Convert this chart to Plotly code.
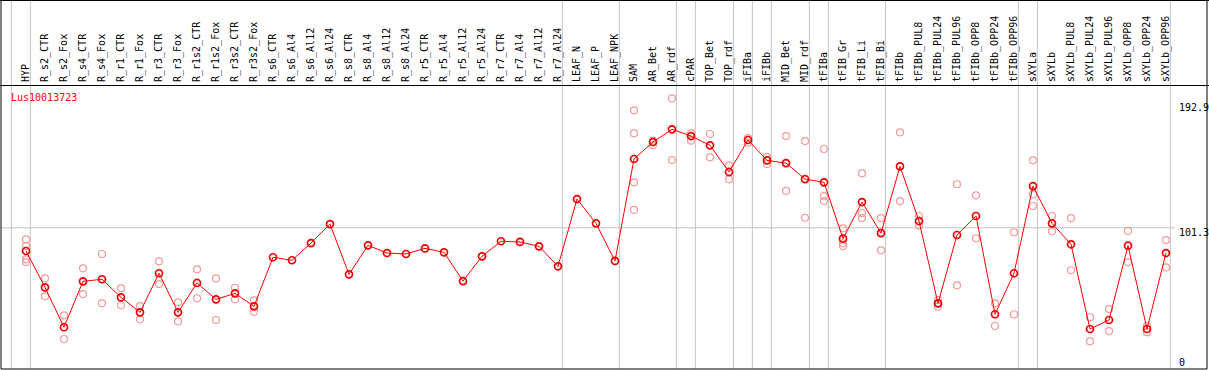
import plotly.graph_objects as go

categories = [
    "HYP", "R_s2_CTR", "R_s2_Fox", "R_s4_CTR", "R_s4_Fox", "R_r1_CTR", "R_r1_Fox",
    "R_r3_CTR", "R_r3_Fox", "R_r1s2_CTR", "R_r1s2_Fox", "R_r3s2_CTR", "R_r3s2_Fox",
    "R_s6_CTR", "R_s6_Al4", "R_s6_Al12", "R_s6_Al24", "R_s8_CTR", "R_s8_Al4",
    "R_s8_Al12", "R_s8_Al24", "R_r5_CTR", "R_r5_Al4", "R_r5_Al12", "R_r5_Al24",
    "R_r7_CTR", "R_r7_Al4", "R_r7_Al12", "R_r7_Al24", "LEAF_N", "LEAF_P", "LEAF_NPK",
    "SAM", "AR_Bet", "AR_rdf", "cPAR", "TOP_Bet", "TOP_rdf", "iFIBa", "iFIBb",
    "MID_Bet", "MID_rdf", "tFIBa", "tFIB_Gr", "tFIB_Li", "tFIB_Bi", "tFIBb",
    "tFIBb_PUL8", "tFIBb_PUL24", "tFIBb_PUL96", "tFIBb_OPP8", "tFIBb_OPP24", "tFIBb_OPP96",
    "sXYLa", "sXYLb", "sXYLb_PUL8", "sXYLb_PUL24", "sXYLb_PUL96", "sXYLb_OPP8",
    "sXYLb_OPP24", "sXYLb_OPP96",
]

mean_values = [
    84.3, 57.7, 28.5, 62.1, 63.6, 50.4, 39.4, 68.0, 39.4, 60.9, 48.9, 53.3, 43.8,
    79.7, 77.5, 90.1, 104.0, 67.2, 88.4, 82.8, 82.1, 86.2, 83.3, 62.3, 80.4,
    91.4, 90.9, 87.7, 73.1, 122.3, 104.5, 77.0,
    151.6, 164.0, 173.3, 168.4, 161.6, 142.1, 165.5, 150.6,
    148.6, 136.9, 134.5, 93.3, 120.1, 97.4, 146.2,
    106.2, 46.0, 96.0, 109.9, 38.0, 68.0,
    131.8, 104.5, 89.2, 27.2, 33.8, 88.2, 27.2, 82.8,
]

replicate_values = [
    [92.8, 87.9, 78.2, 76.2], [64.3, 51.1], [37.2, 19.9], [71.6, 52.8], [82.1, 46.0],
    [57.0, 44.6], [44.0, 34.3], [76.7, 60.1], [46.7, 32.8], [70.9, 49.7],
    [64.3, 33.8], [57.4, 48.9], [48.2, 39.9],
    [], [], [], [], [], [], [], [], [], [], [], [], [], [], [], [],
    [], [], [],
    [187.2, 170.4, 134.5, 114.3], [165.0, 161.8], [196.0, 150.8], [170.4, 165.0],
    [169.9, 152.8], [147.0, 136.7], [166.9, 163.5], [153.0, 147.9],
    [168.4, 128.2], [164.7, 108.6], [158.9, 124.5, 120.8], [100.9, 89.9, 87.9],
    [141.1, 111.9, 108.4], [108.4, 84.8], [171.1, 120.8],
    [109.9, 102.8], [48.4, 43.5], [133.1, 59.2], [125.0, 93.6], [46.0, 29.4], [98.0, 38.0],
    [150.6, 125.7, 117.2], [109.9, 98.7], [108.4, 70.2], [35.8, 18.2], [41.8, 25.7],
    [98.9, 76.2], [29.4, 24.8], [92.3, 72.3],
]

# indices of the last category in each group (separator drawn after it)
group_ends = [-1, 0, 28, 31, 34, 35, 37, 38, 39, 41, 42, 45, 52, 53, 60]

gene_name = "Lus10013723"
max_label = 192.9
mid_label = 101.3
min_label = 0

x_idx = list(range(len(categories)))
rep_x, rep_y = [], []
for i, reps in enumerate(replicate_values):
    for v in reps:
        rep_x.append(i)
        rep_y.append(v)

W, H = 1209, 370
mono = "DejaVu Sans Mono"

fig = go.Figure()
fig.add_trace(go.Scatter(
    x=rep_x, y=rep_y, mode="markers",
    marker=dict(symbol="circle-open", size=7, color="#f29a9a", line=dict(width=1.2, color="#f29a9a")),
    hoverinfo="skip", showlegend=False,
))
fig.add_trace(go.Scatter(
    x=x_idx, y=mean_values, mode="lines+markers",
    line=dict(color="#ff0000", width=1),
    marker=dict(symbol="circle-open", size=7, color="#ee0000", line=dict(width=1.7, color="#ee0000")),
    showlegend=False,
))

shapes = []
sep_offset = 0.23
for g in group_ends:
    shapes.append(dict(type="line", xref="x", yref="paper", x0=g + sep_offset, x1=g + sep_offset,
                       y0=0, y1=1.31, line=dict(color="#c4c4c4", width=1), layer="below"))
# horizontal reference line
shapes.append(dict(type="line", xref="paper", yref="y", x0=0, x1=(1175 - 1) / 1206,
                   y0=mid_label, y1=mid_label, line=dict(color="#c4c4c4", width=1), layer="below"))
# frame
top_paper = (369 - 0.5) / 283
shapes += [
    dict(type="line", xref="paper", yref="paper", x0=0, x1=0, y0=0, y1=top_paper, line=dict(color="black", width=1)),
    dict(type="line", xref="paper", yref="paper", x0=1, x1=1, y0=0, y1=top_paper, line=dict(color="black", width=1)),
    dict(type="line", xref="paper", yref="paper", x0=-0.01, x1=1.01, y0=top_paper, y1=top_paper, line=dict(color="black", width=1)),
    dict(type="line", xref="paper", yref="paper", x0=0, x1=1, y0=0, y1=0, line=dict(color="black", width=1)),
    dict(type="line", xref="paper", yref="paper", x0=-0.01, x1=1.01, y0=(369 - 85.5) / 283, y1=(369 - 85.5) / 283, line=dict(color="black", width=1)),
]

annotations = [
    dict(text=gene_name, xref="paper", yref="paper", x=(9 - 1) / 1206, y=(369 - 97) / 283,
         xanchor="left", yanchor="middle", showarrow=False, font=dict(family=mono, size=10, color="#ff0000")),
    dict(text=f"{max_label}", xref="paper", yref="y", x=(1177 - 1) / 1206, y=max_label, yshift=2.5,
         xanchor="left", yanchor="top", showarrow=False, font=dict(family=mono, size=10, color="black")),
    dict(text=f"{mid_label}", xref="paper", yref="y", x=(1177 - 1) / 1206, y=mid_label, yshift=2.5,
         xanchor="left", yanchor="top", showarrow=False, font=dict(family=mono, size=10, color="black")),
    dict(text=f"{min_label}", xref="paper", yref="y", x=(1177 - 1) / 1206, y=min_label, yshift=4,
         xanchor="left", yanchor="middle", showarrow=False, font=dict(family=mono, size=10, color="black")),
]

x0 = -(26 - 1) / 19
fig.update_layout(
    width=W, height=H,
    margin=dict(l=1, r=2, t=86, b=1, pad=0),
    paper_bgcolor="white", plot_bgcolor="white",
    shapes=shapes, annotations=annotations,
    xaxis=dict(range=[x0, x0 + 1206 / 19], side="top", tickmode="array", tickvals=x_idx, ticktext=categories,
               tickangle=-90, tickfont=dict(family=mono, size=10, color="black"), ticks="",
               ticklabelstandoff=3,
               showgrid=False, zeroline=False, showline=False, automargin=False, fixedrange=True),
    yaxis=dict(range=[-2.05, 205.0], showticklabels=False, showgrid=False, zeroline=False,
               showline=False, fixedrange=True),
)
fig.write_html(
    "out.html",
    config={"displayModeBar": False},
    post_script="document.body.style.margin='0';document.body.style.overflow='hidden';",
)
